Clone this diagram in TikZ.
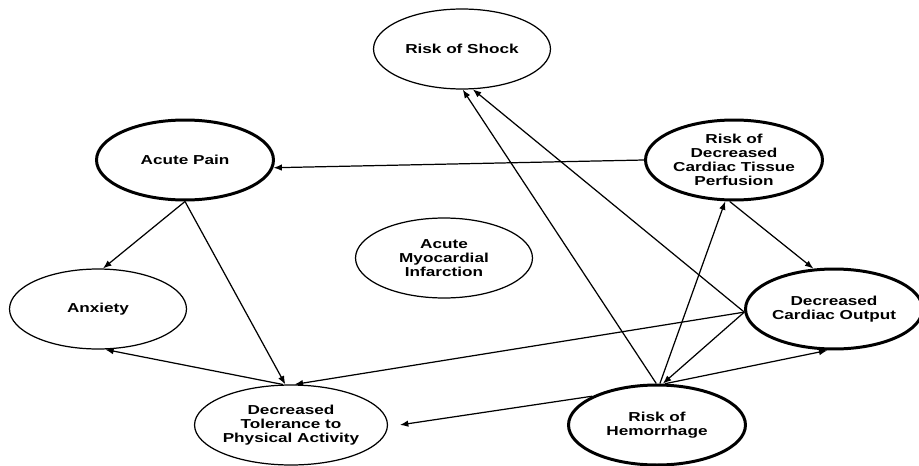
\documentclass[tikz,border=0pt]{standalone}
\usepackage{fontspec}
\newfontfamily\diagfont{Liberation Sans}[FakeStretch=1.32]
\usetikzlibrary{shapes.geometric,arrows.meta}

\begin{document}
\begin{tikzpicture}[x=0.02cm, y=-0.02cm, font=\diagfont\bfseries\fontsize{7.4}{7.9}\selectfont]
%% the figure is laid out in pixel units of the original drawing (y grows downwards)
%% border angles of the ellipses are given in the usual orientation (y upwards)
\tikzstyle{arc}=[-{Latex[length=1.7mm,width=1.3mm]},line width=0.7pt]
\tikzstyle{diagnosis}=[ellipse,draw,line width=0.7pt,minimum width=3.54cm,minimum height=1.6cm,inner sep=0pt,align=center]
\tikzstyle{keydiagnosis}=[diagnosis,line width=1.7pt]
\useasboundingbox (0,0) rectangle (919,466);
%% TikZ-figure elements %%
\node[diagnosis] at (462,49) (Risk_of_Shock) {Risk of Shock};
\node[keydiagnosis] at (185,160) (Acute_Pain) {Acute Pain};
\node[keydiagnosis] at (734,160) (Risk_of_Perfusion) {Risk of\\Decreased\\Cardiac Tissue\\Perfusion};
\node[diagnosis] at (444,258) (Acute_MI) {Acute\\Myocardial\\Infarction};
\node[diagnosis] at (98,309) (Anxiety) {Anxiety};
\node[keydiagnosis] at (834,309) (Cardiac_Output) {Decreased\\Cardiac Output};
\node[diagnosis] at (291,425) (Activity_Tolerance) {Decreased\\Tolerance to\\Physical Activity};
\node[keydiagnosis] at (657,425) (Risk_of_Hemorrhage) {Risk of\\Hemorrhage};
%% arcs out of Risk_of_Perfusion
\draw[arc] (Risk_of_Perfusion.west) to[bend right=0] (Acute_Pain.-5);
\draw[arc] (Risk_of_Perfusion.-96) to[bend right=0] (Cardiac_Output.117);
%% arcs out of Acute_Pain
\draw[arc] (Acute_Pain.south) to[bend right=0] (Anxiety.83);
\draw[arc] (Acute_Pain.south) to[bend right=0] (Activity_Tolerance.98);
%% arcs out of Cardiac_Output
\draw[arc] (Cardiac_Output.182) to[bend right=0] (Activity_Tolerance.85);
\draw[arc] (Cardiac_Output.182) to[bend right=0] (Risk_of_Shock.-75);
\draw[arc] (Cardiac_Output.182) to[bend right=0] (Risk_of_Hemorrhage.82);
%% arc out of Activity_Tolerance
\draw[arc] (Activity_Tolerance.101) to[bend right=0] (Anxiety.-80);
%% arcs out of Risk_of_Hemorrhage
\draw[arc] (Risk_of_Hemorrhage.91) to[bend right=0] (Risk_of_Shock.-89);
\draw[arc] (Risk_of_Hemorrhage.86) to[bend right=0] (Risk_of_Perfusion.-102);
\draw[arc] (Risk_of_Hemorrhage.79) to[bend right=0] (Cardiac_Output.-99);
\draw[arc, shorten >=0.24cm] (Risk_of_Hemorrhage.156) to[bend right=0] (Activity_Tolerance.-1);
\end{tikzpicture}
\end{document}
